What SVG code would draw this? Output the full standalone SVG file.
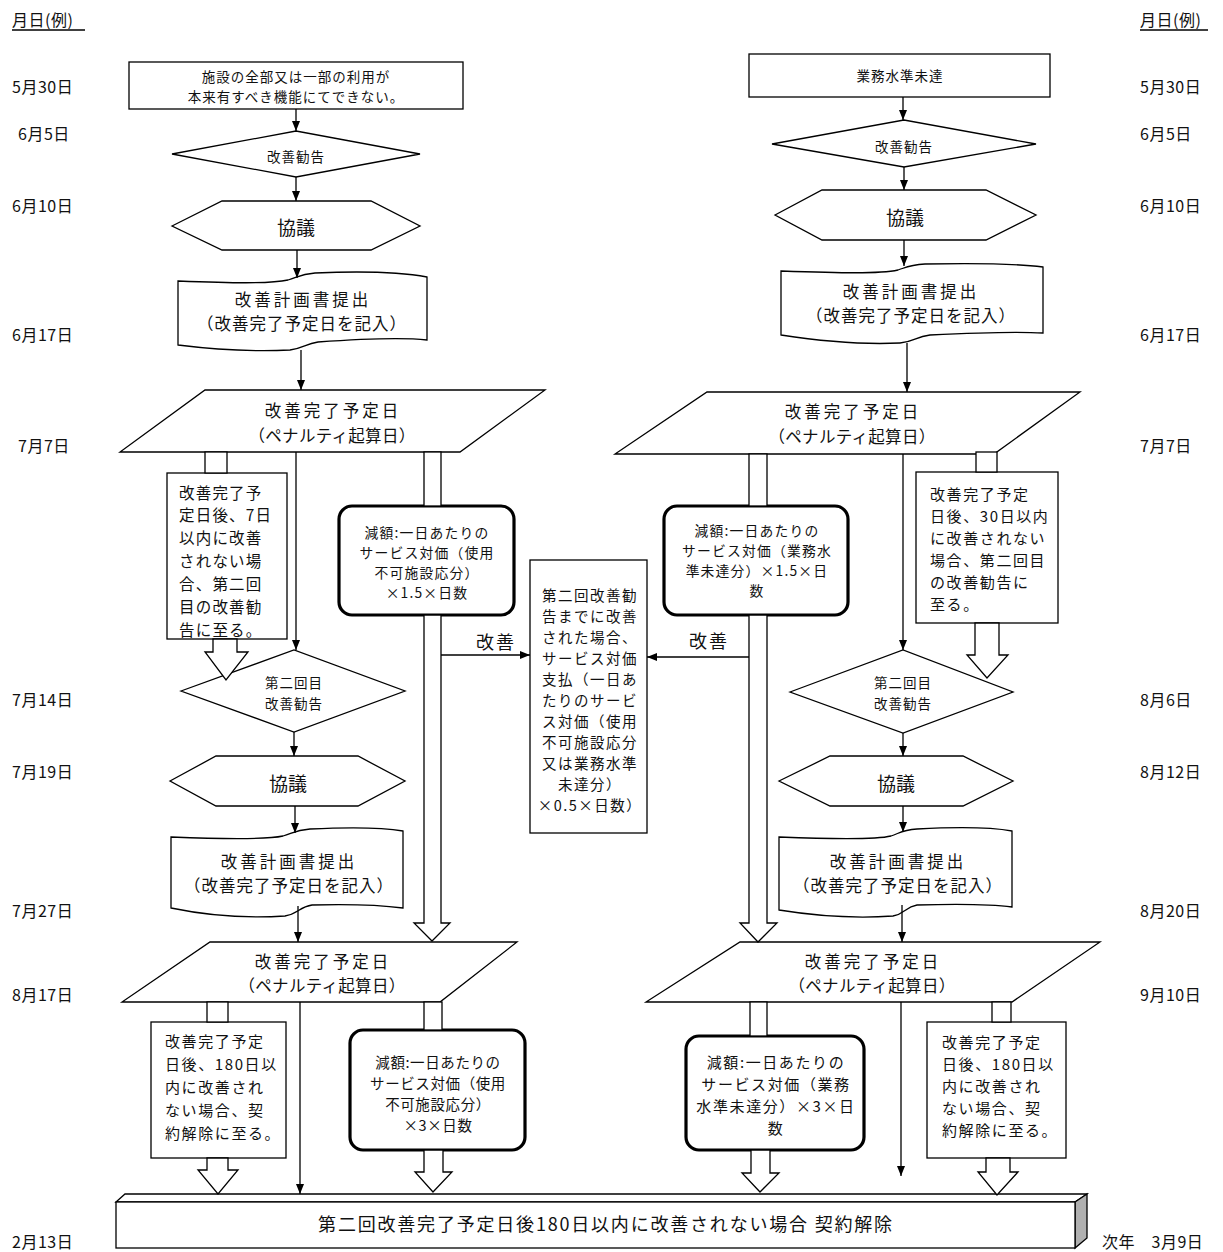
<svg xmlns="http://www.w3.org/2000/svg" width="1223" height="1252" viewBox="0 0 1223 1252">
<defs>
<marker id="ah" viewBox="0 0 10 8" refX="10" refY="4" markerWidth="10" markerHeight="8" markerUnits="userSpaceOnUse" orient="auto"><path d="M0,0 L10,4 L0,8 z" fill="#000"/></marker>
<style>
text{font-family:"Noto Sans CJK JP","Noto Sans",sans-serif;fill:#111;dominant-baseline:central}
.m{text-anchor:middle}
.s{fill:#fff;stroke:#000;stroke-width:1.3}
.t{fill:#fff;stroke:#000;stroke-width:3.2}
.c{fill:none;stroke:#000;stroke-width:1.3;marker-end:url(#ah)}
.b{fill:#fff;stroke:#000;stroke-width:1.3}
.d{font-size:16px;letter-spacing:0.5px}
.f13{font-size:13.5px;letter-spacing:1px}
.g1{font-size:13.8px;letter-spacing:1.2px}
.g2{font-size:14.5px;letter-spacing:0.6px}
.n15{font-size:15px;letter-spacing:1.6px}
.n155{font-size:15.5px;letter-spacing:1.2px}
.cb{font-size:14.5px;letter-spacing:1.5px}
.h1{font-size:16.5px;letter-spacing:3px}
.h2{font-size:16.5px;letter-spacing:1px}
.p2{font-size:16.5px;letter-spacing:0.3px}
.f19{font-size:19px}
</style>
</defs>
<rect width="1223" height="1252" fill="#fff"/>

<g id="dates">
<text class="d" x="12" y="19">月日(例)</text>
<line x1="12" y1="30" x2="85" y2="30" stroke="#000" stroke-width="1.3"/>
<text class="d" x="1140" y="19">月日(例)</text>
<line x1="1140" y1="30" x2="1208" y2="30" stroke="#000" stroke-width="1.3"/>
<text class="d" x="12" y="86">5月30日</text>
<text class="d" x="18" y="133">6月5日</text>
<text class="d" x="12" y="205">6月10日</text>
<text class="d" x="12" y="334">6月17日</text>
<text class="d" x="18" y="445">7月7日</text>
<text class="d" x="12" y="699">7月14日</text>
<text class="d" x="12" y="771">7月19日</text>
<text class="d" x="12" y="910">7月27日</text>
<text class="d" x="12" y="994">8月17日</text>
<text class="d" x="12" y="1241">2月13日</text>
<text class="d" x="1140" y="86">5月30日</text>
<text class="d" x="1140" y="133">6月5日</text>
<text class="d" x="1140" y="205">6月10日</text>
<text class="d" x="1140" y="334">6月17日</text>
<text class="d" x="1140" y="445">7月7日</text>
<text class="d" x="1140" y="699">8月6日</text>
<text class="d" x="1140" y="771">8月12日</text>
<text class="d" x="1140" y="910">8月20日</text>
<text class="d" x="1140" y="994">9月10日</text>
<text class="d" x="1102" y="1241">次年　3月9日</text>
</g>

<!-- Left column -->
<g id="l-start"><rect class="s" x="129" y="62" width="334" height="47"/>
<text class="m f13" x="296" y="76">施設の全部又は一部の利用が</text>
<text class="m f13" x="296" y="96">本来有すべき機能にてできない。</text></g>
<g id="l-kankoku1"><polygon class="s" points="172,154 296,131 420,154 296,177"/>
<text class="m f13" x="296" y="156">改善勧告</text></g>
<g id="l-kyogi1"><polygon class="s" points="172,226 222,201 371,201 420,226 371,250 222,250"/>
<text class="m f19" x="296" y="226">協議</text></g>
<g id="l-keikaku1"><path class="s" d="M178,281 C230,283 270,284 288,280 C298,277 300,274 315,273 C360,271 400,272 427,277 L427,340 C400,337 360,339 318,342 C305,344 304,348 290,350 C250,352 210,349 178,345 Z"/>
<text class="m h1" x="303" y="299">改善計画書提出</text>
<text class="m h2" x="302" y="323">（改善完了予定日を記入）</text></g>
<g id="l-kanryo1"><polygon class="s" points="205,390 545,390 460,452 120,452"/>
<text class="m h1" x="333" y="410">改善完了予定日</text>
<text class="m p2" x="332" y="435">（ペナルティ起算日）</text></g>
<g id="l-note1"><rect class="s" x="167" y="473" width="120" height="166"/>
<text class="n155" x="179" y="492">改善完了予</text>
<text class="n155" x="179" y="514">定日後、7日</text>
<text class="n155" x="179" y="537">以内に改善</text>
<text class="n155" x="179" y="560">されない場</text>
<text class="n155" x="179" y="583">合、第二回</text>
<text class="n155" x="179" y="606">目の改善勧</text>
<text class="n155" x="179" y="629">告に至る。</text></g>
<g id="l-gengaku1"><rect class="t" x="339" y="506" width="175" height="109" rx="13"/>
<text class="m g1" x="427" y="532">減額:一日あたりの</text>
<text class="m g1" x="427" y="552">サービス対価（使用</text>
<text class="m g1" x="427" y="572">不可施設応分）</text>
<text class="m g1" x="427" y="592">×1.5×日数</text></g>
<g id="l-kankoku2"><polygon class="s" points="181,691 294,650 405,691 294,732"/>
<text class="m f13" x="294" y="682">第二回目</text>
<text class="m f13" x="294" y="703">改善勧告</text></g>
<g id="l-kyogi2"><polygon class="s" points="170,781 216,756 358,756 405,781 358,806 216,806"/>
<text class="m f19" x="288" y="782">協議</text></g>
<g id="l-keikaku2"><path class="s" d="M171,837 C220,839 265,840 283,836 C293,833 295,830 310,829 C350,827 380,827 403,831 L403,908 C380,905 350,904 312,905 C299,907 298,914 285,916 C240,919 200,914 171,908 Z"/>
<text class="m h1" x="289" y="861">改善計画書提出</text>
<text class="m h2" x="289" y="885">（改善完了予定日を記入）</text></g>
<g id="l-kanryo2"><polygon class="s" points="210,942 517,942 440,1002 122,1002"/>
<text class="m h1" x="323" y="961">改善完了予定日</text>
<text class="m p2" x="322" y="985">（ペナルティ起算日）</text></g>
<g id="l-note2"><rect class="s" x="151" y="1022" width="135" height="136"/>
<text class="n15" x="165" y="1040">改善完了予定</text>
<text class="n15" x="165" y="1063">日後、180日以</text>
<text class="n15" x="165" y="1086">内に改善され</text>
<text class="n15" x="165" y="1109">ない場合、契</text>
<text class="n15" x="165" y="1132">約解除に至る。</text></g>
<g id="l-gengaku2"><rect class="t" x="350" y="1030" width="175" height="120" rx="13"/>
<text class="m g2" x="438" y="1061">減額:一日あたりの</text>
<text class="m g2" x="438" y="1082">サービス対価（使用</text>
<text class="m g2" x="438" y="1103">不可施設応分）</text>
<text class="m g2" x="438" y="1124">×3×日数</text></g>

<!-- Center -->
<g id="c-shiharai"><rect class="s" x="530" y="560" width="117" height="273"/>
<text class="m cb" x="590" y="594">第二回改善勧</text>
<text class="m cb" x="590" y="615">告までに改善</text>
<text class="m cb" x="590" y="636">された場合、</text>
<text class="m cb" x="590" y="657">サービス対価</text>
<text class="m cb" x="590" y="678">支払（一日あ</text>
<text class="m cb" x="590" y="699">たりのサービ</text>
<text class="m cb" x="590" y="720">ス対価（使用</text>
<text class="m cb" x="590" y="741">不可施設応分</text>
<text class="m cb" x="590" y="762">又は業務水準</text>
<text class="m cb" x="590" y="783">未達分）</text>
<text class="m cb" x="590" y="804">×0.5×日数）</text></g>

<!-- Right column -->
<g id="r-start"><rect class="s" x="749" y="54" width="301" height="43"/>
<text class="m f13" x="900" y="75">業務水準未達</text></g>
<g id="r-kankoku1"><polygon class="s" points="772,144 904,120 1036,144 904,167"/>
<text class="m f13" x="904" y="146">改善勧告</text></g>
<g id="r-kyogi1"><polygon class="s" points="775,215 822,190 986,190 1036,215 986,240 822,240"/>
<text class="m f19" x="905" y="216">協議</text></g>
<g id="r-keikaku1"><path class="s" d="M781,271 C840,273 880,274 898,270 C907,267 910,265 925,264 C970,263 1010,263 1043,267 L1043,333 C1010,331 970,333 930,335 C915,337 914,342 900,343 C860,345 820,341 781,335 Z"/>
<text class="m h1" x="911" y="291">改善計画書提出</text>
<text class="m h2" x="911" y="315">（改善完了予定日を記入）</text></g>
<g id="r-kanryo1"><polygon class="s" points="707,392 1080,392 994,454 615,454"/>
<text class="m h1" x="853" y="411">改善完了予定日</text>
<text class="m p2" x="852" y="436">（ペナルティ起算日）</text></g>
<g id="r-gengaku1"><rect class="t" x="664" y="506" width="184" height="109" rx="13"/>
<text class="m g1" x="757" y="530">減額:一日あたりの</text>
<text class="m g1" x="757" y="550">サービス対価（業務水</text>
<text class="m g1" x="757" y="570">準未達分）×1.5×日</text>
<text class="m g1" x="757" y="590">数</text></g>
<g id="r-note1"><rect class="s" x="916" y="472" width="142" height="151"/>
<text class="n15" x="930" y="493">改善完了予定</text>
<text class="n15" x="930" y="515">日後、30日以内</text>
<text class="n15" x="930" y="537">に改善されない</text>
<text class="n15" x="930" y="559">場合、第二回目</text>
<text class="n15" x="930" y="581">の改善勧告に</text>
<text class="n15" x="930" y="603">至る。</text></g>
<g id="r-kankoku2"><polygon class="s" points="790,692 903,650 1013,692 903,733"/>
<text class="m f13" x="903" y="682">第二回目</text>
<text class="m f13" x="903" y="703">改善勧告</text></g>
<g id="r-kyogi2"><polygon class="s" points="779,781 830,756 963,756 1013,781 963,806 830,806"/>
<text class="m f19" x="896" y="782">協議</text></g>
<g id="r-keikaku2"><path class="s" d="M779,837 C830,839 875,840 891,836 C900,833 902,830 917,829 C955,827 990,827 1012,831 L1012,907 C990,904 955,904 917,905 C905,907 905,914 893,916 C850,919 810,915 779,910 Z"/>
<text class="m h1" x="898" y="861">改善計画書提出</text>
<text class="m h2" x="898" y="885">（改善完了予定日を記入）</text></g>
<g id="r-kanryo2"><polygon class="s" points="740,942 1100,942 1012,1002 646,1002"/>
<text class="m h1" x="873" y="961">改善完了予定日</text>
<text class="m p2" x="872" y="985">（ペナルティ起算日）</text></g>
<g id="r-gengaku2"><rect class="t" x="686" y="1036" width="178" height="114" rx="13"/>
<text class="m n15" x="776" y="1061">減額:一日あたりの</text>
<text class="m n15" x="776" y="1083">サービス対価（業務</text>
<text class="m n15" x="776" y="1105">水準未達分）×3×日</text>
<text class="m n15" x="776" y="1127">数</text></g>
<g id="r-note2"><rect class="s" x="927" y="1022" width="139" height="136"/>
<text class="n15" x="942" y="1041">改善完了予定</text>
<text class="n15" x="942" y="1063">日後、180日以</text>
<text class="n15" x="942" y="1085">内に改善され</text>
<text class="n15" x="942" y="1107">ない場合、契</text>
<text class="n15" x="942" y="1129">約解除に至る。</text></g>

<!-- Bottom bar -->
<g id="end-kaijo">
<polygon class="s" points="116,1202 125,1194 1087,1194 1075,1202"/>
<polygon fill="#b0b0b0" stroke="#000" stroke-width="1.3" points="1075,1202 1087,1194 1087,1238 1075,1248"/>
<rect class="s" x="116" y="1202" width="959" height="46"/>
<text class="m" font-size="18" letter-spacing="1.8" x="606" y="1223">第二回改善完了予定日後180日以内に改善されない場合 契約解除</text>
</g>

<g id="connectors">
<line class="c" x1="296" y1="109" x2="296" y2="131"/>
<line class="c" x1="296" y1="177" x2="296" y2="201"/>
<line class="c" x1="297" y1="250" x2="297" y2="278"/>
<line class="c" x1="301" y1="350" x2="301" y2="390"/>
<line class="c" x1="296" y1="452" x2="296" y2="650"/>
<line class="c" x1="294" y1="732" x2="294" y2="756"/>
<line class="c" x1="295" y1="806" x2="295" y2="833"/>
<line class="c" x1="298" y1="906" x2="298" y2="942"/>
<line class="c" x1="300" y1="1002" x2="300" y2="1194"/>
<line class="c" x1="903" y1="97" x2="903" y2="120"/>
<line class="c" x1="904" y1="167" x2="904" y2="190"/>
<line class="c" x1="904" y1="240" x2="904" y2="266"/>
<line class="c" x1="907" y1="343" x2="907" y2="392"/>
<line class="c" x1="903" y1="454" x2="903" y2="650"/>
<line class="c" x1="903" y1="733" x2="903" y2="756"/>
<line class="c" x1="903" y1="806" x2="903" y2="832"/>
<line class="c" x1="902" y1="905" x2="902" y2="942"/>
<line class="c" x1="901" y1="1002" x2="901" y2="1176"/>
<line class="c" x1="441" y1="655" x2="530" y2="655"/>
<line class="c" x1="749" y1="657" x2="647" y2="657"/>
<text class="m" font-size="18" letter-spacing="2" x="496" y="641">改善</text>
<text class="m" font-size="18" letter-spacing="2" x="709" y="640">改善</text>
<rect class="b" x="205" y="452" width="22" height="21"/>
<polygon class="b" points="213,639 213,652 205,652 226,680 248,652 237,652 237,639"/>
<rect class="b" x="424" y="452" width="17" height="54"/>
<polygon class="b" points="424,615 424,923 414,923 432,941 450,923 441,923 441,615"/>
<rect class="b" x="207" y="1002" width="21" height="20"/>
<polygon class="b" points="207,1158 207,1170 198,1170 218,1194 238,1170 228,1170 228,1158"/>
<rect class="b" x="424" y="1002" width="18" height="28"/>
<polygon class="b" points="424,1150 424,1172 415,1172 433,1192 452,1172 443,1172 443,1150"/>
<rect class="b" x="749" y="454" width="18" height="52"/>
<polygon class="b" points="749,615 749,923 740,923 758,942 777,923 767,923 767,615"/>
<rect class="b" x="976" y="452" width="21" height="20"/>
<polygon class="b" points="975,623 975,655 967,655 987,678 1008,655 999,655 999,623"/>
<rect class="b" x="750" y="1002" width="17" height="34"/>
<polygon class="b" points="751,1150 751,1173 742,1173 760,1192 779,1173 770,1173 770,1150"/>
<rect class="b" x="992" y="1002" width="19" height="20"/>
<polygon class="b" points="986,1158 986,1172 978,1172 997,1195 1018,1172 1010,1172 1010,1158"/>
</g>
</svg>
